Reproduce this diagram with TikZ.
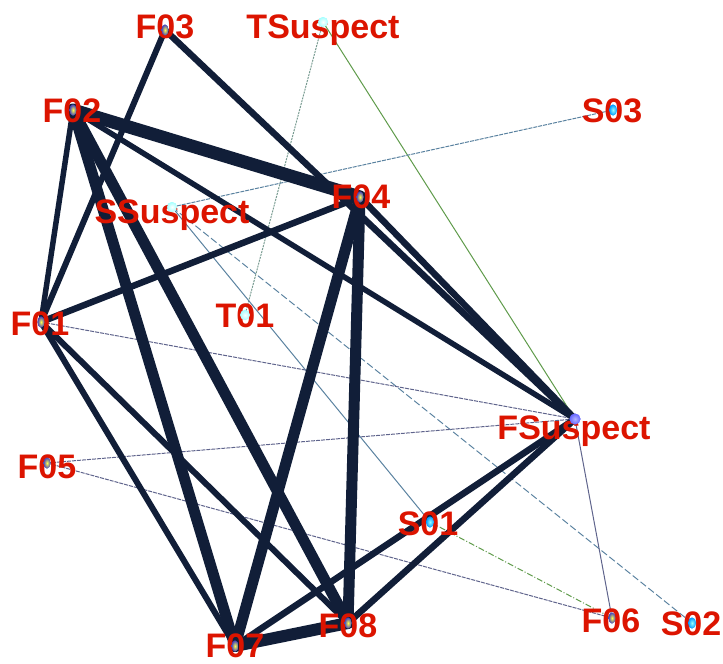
\documentclass[tikz,border=0pt]{standalone}
\usepackage{fontspec}
\setmainfont{Liberation Sans}
\usetikzlibrary{shapes.geometric}
\definecolor{edgec}{RGB}{17,30,56}
\definecolor{lblc}{RGB}{220,20,0}
\definecolor{thinp}{RGB}{95,100,140}
\definecolor{thinb}{RGB}{90,130,160}
\definecolor{thing}{RGB}{95,155,75}
\definecolor{thint}{RGB}{120,155,145}
\pgfdeclarelayer{bg}
\pgfsetlayers{bg,main}
\tikzset{
  heavy/.style={draw=edgec,line width=#1,line cap=round},
  lbl/.style={text=lblc,font=\fontsize{34}{36}\selectfont\bfseries,anchor=base,inner sep=0pt},
  fdot/.style={shape=ellipse,minimum width=7pt,minimum height=11pt,inner sep=0pt,shading=radial,inner color=yellow!70!white,outer color=blue!45!gray},
  sdot/.style={shape=ellipse,minimum width=8pt,minimum height=11pt,inner sep=0pt,shading=radial,inner color=cyan!40!white,outer color=cyan!60!blue},
  tdot/.style={shape=circle,minimum size=10pt,inner sep=0pt,shading=radial,inner color=white,outer color=cyan!35!white},
  fsdot/.style={shape=circle,minimum size=11pt,inner sep=0pt,shading=radial,inner color=blue!30!white,outer color=blue!60!white},
  thinline/.style={line width=1pt}
}
\begin{document}
\begin{tikzpicture}[x=1pt,y=-1pt]
\useasboundingbox (0,0) rectangle (723,664);
% dot positions
\node[fdot] (F03) at (165,30) {};
\node[tdot] (TS) at (323,22) {};
\node[fdot] (F02) at (73,110) {};
\node[sdot] (S03) at (613,110) {};
\node[fdot] (F04) at (360,197) {};
\node[tdot] (SS) at (172,207) {};
\node[tdot] (T01) at (245,315) {};
\node[fdot] (F01) at (41,322) {};
\node[fsdot] (FS) at (575,419) {};
\node[fdot] (F05) at (47,463) {};
\node[sdot] (S01) at (430,522) {};
\node[fdot] (F08) at (348,623) {};
\node[fdot] (F07) at (235,646) {};
\node[fdot] (F06) at (612,618) {};
\node[sdot] (S02) at (692,623) {};
\begin{pgfonlayer}{bg}
% thin connectors
\draw[thinline,draw=thint,dash pattern=on 2pt off 1pt] (TS.center) -- (T01.center);
\draw[thinline,draw=thing] (TS.center) -- (FS.center);
\draw[thinline,draw=thinb,dash pattern=on 4pt off 1pt] (SS.center) -- (S03.center);
\draw[thinline,draw=thinb] (SS.center) -- (S01.center);
\draw[thinline,draw=thinb,dash pattern=on 7pt off 3pt] (SS.center) -- (S02.center);
\draw[thinline,draw=thinp,dash pattern=on 4pt off 1pt] (F01.center) -- (FS.center);
\draw[thinline,draw=thinp,dash pattern=on 4pt off 1pt] (F05.center) -- (FS.center);
\draw[thinline,draw=thinp,dash pattern=on 4pt off 1pt] (F05.center) -- (F06.center);
\draw[thinline,draw=thinp] (FS.center) -- (F06.center);
\draw[thinline,draw=thing,dash pattern=on 6pt off 2pt on 1pt off 2pt] (S01.center) -- (F06.center);
% heavy connectors
\draw[heavy=6pt] (F03.center) -- (F01.center);
\draw[heavy=6.5pt] (F03.center) -- (FS.center);
\draw[heavy=5.5pt] (F02.center) -- (F01.center);
\draw[heavy=13pt] (F02.center) -- (F04.center);
\draw[heavy=5.5pt] (F02.center) -- (FS.center);
\draw[heavy=11pt] (F02.center) -- (F07.center);
\draw[heavy=11pt] (F02.center) -- (F08.center);
\draw[heavy=6.5pt] (F01.center) -- (F04.center);
\draw[heavy=6pt] (F01.center) -- (F07.center);
\draw[heavy=6pt] (F01.center) -- (F08.center);
\draw[heavy=11pt] (F04.center) -- (F07.center);
\draw[heavy=11pt] (F04.center) -- (F08.center);
\draw[heavy=6.5pt] (F04.center) -- (FS.center);
\draw[heavy=12pt] (F07.center) -- (F08.center);
\draw[heavy=6.5pt] (F07.center) -- (FS.center);
\draw[heavy=6.5pt] (F08.center) -- (FS.center);
\end{pgfonlayer}
% labels
\node[lbl] (F03l) at (165,38) {F03};
\node[lbl] (TSl) at (323,38) {TSuspect};
\node[lbl] (F02l) at (72,122) {F02};
\node[lbl] (S03l) at (612,122) {S03};
\node[lbl] (F04l) at (361,208) {F04};
\node[lbl] (SSl) at (172,223) {SSuspect};
\node[lbl] (T01l) at (245,327) {T01};
\node[lbl] (F01l) at (40,335) {F01};
\node[lbl] (FSl) at (574,439) {FSuspect};
\node[lbl] (F05l) at (47,478) {F05};
\node[lbl] (S01l) at (428,535) {S01};
\node[lbl] (F08l) at (348,637) {F08};
\node[lbl] (F07l) at (235,657) {F07};
\node[lbl] (F06l) at (611,632) {F06};
\node[lbl] (S02l) at (691,635) {S02};
% redraw dots on top of labels
\foreach \n/\s in {F03/fdot,F02/fdot,F04/fdot,F01/fdot,F05/fdot,F08/fdot,F07/fdot,F06/fdot,S03/sdot,S01/sdot,S02/sdot,TS/tdot,SS/tdot,T01/tdot,FS/fsdot}
  \node[\s] at (\n.center) {};
\end{tikzpicture}
\end{document}
